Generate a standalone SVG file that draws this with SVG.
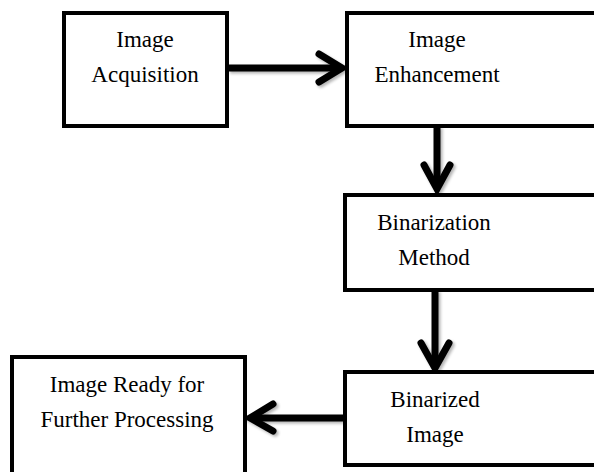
<svg xmlns="http://www.w3.org/2000/svg" width="594" height="472" viewBox="0 0 594 472">
<defs>
<style>
.box{fill:#fff;stroke:#000;stroke-width:4}
text{font-family:'Liberation Serif','Times New Roman',Times,serif;font-size:23px;fill:#000;text-anchor:middle}
.ln{fill:none;stroke:#000;stroke-width:7}
.hd{fill:none;stroke:#000;stroke-width:7;stroke-linecap:round;stroke-linejoin:miter}
</style>
<filter id="sh" x="-20%" y="-20%" width="140%" height="140%">
<feGaussianBlur in="SourceAlpha" stdDeviation="1.5"/>
<feOffset dx="2" dy="2" result="b"/>
<feComponentTransfer><feFuncA type="linear" slope="0.3"/></feComponentTransfer>
<feMerge><feMergeNode/><feMergeNode in="SourceGraphic"/></feMerge>
</filter>
</defs>
<rect width="594" height="472" fill="#fff"/>
<g id="connectors" filter="url(#sh)">
<line class="ln" x1="228" y1="68" x2="340" y2="68"/>
<polyline class="hd" points="319,54 342,68 319,82"/>
<line class="ln" x1="437" y1="126" x2="437" y2="188"/>
<polyline class="hd" points="424,165 437,189 450,165"/>
<line class="ln" x1="435" y1="290" x2="435" y2="367"/>
<polyline class="hd" points="421,343 435,368 449,343"/>
<line class="ln" x1="343" y1="418" x2="252" y2="418"/>
<polyline class="hd" points="273,404 250,418 273,431"/>
</g>
<g id="n1">
<rect class="box" x="64" y="13" width="163" height="113"/>
<text x="145" y="47" font-family="Liberation Serif, serif">Image</text>
<text x="145" y="82" font-family="Liberation Serif, serif">Acquisition</text>
</g>
<g id="n2">
<rect class="box" x="347" y="13" width="260" height="113"/>
<text x="437" y="47" font-family="Liberation Serif, serif">Image</text>
<text x="437" y="82" font-family="Liberation Serif, serif">Enhancement</text>
</g>
<g id="n3">
<rect class="box" x="345" y="195" width="260" height="95"/>
<text x="434" y="230" font-family="Liberation Serif, serif">Binarization</text>
<text x="434" y="265" font-family="Liberation Serif, serif">Method</text>
</g>
<g id="n4">
<rect class="box" x="345" y="372" width="260" height="93"/>
<text x="435" y="407" font-family="Liberation Serif, serif">Binarized</text>
<text x="435" y="442" font-family="Liberation Serif, serif">Image</text>
</g>
<g id="n5">
<rect class="box" x="12" y="357" width="233" height="130"/>
<text x="127" y="392" font-family="Liberation Serif, serif">Image Ready for</text>
<text x="127" y="427" font-family="Liberation Serif, serif">Further Processing</text>
</g>
</svg>
